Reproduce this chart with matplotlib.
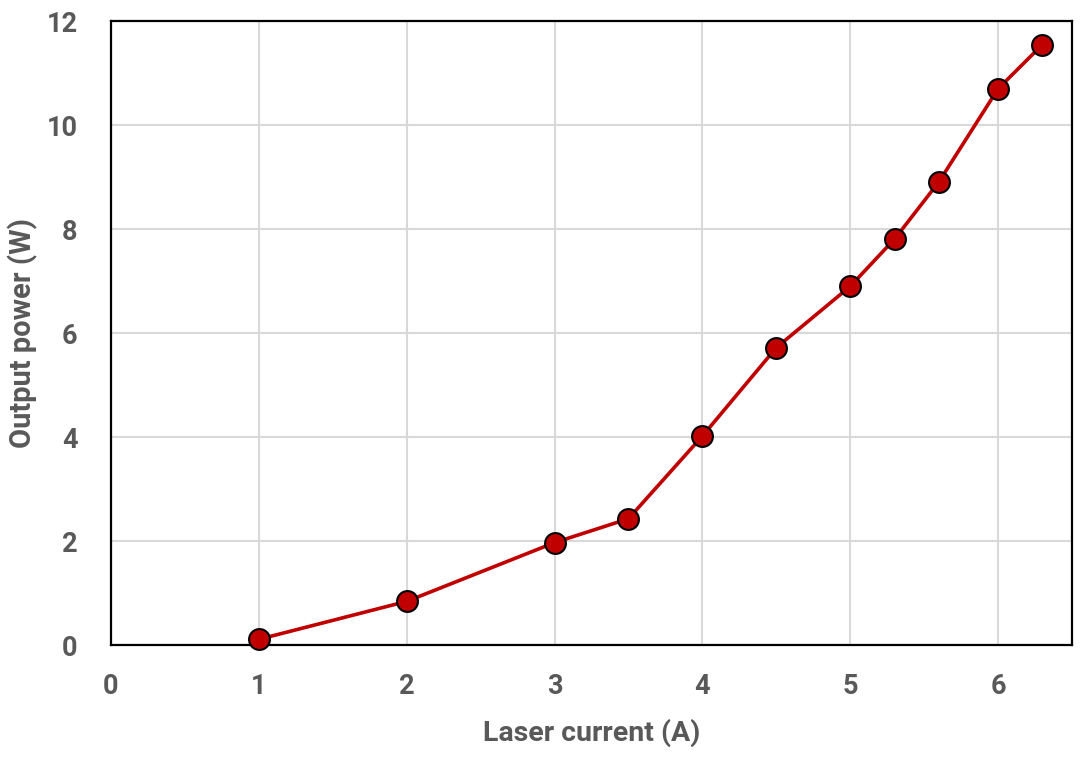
import matplotlib
matplotlib.use("Agg")
import matplotlib.pyplot as plt

current = [1, 2, 3, 3.5, 4, 4.5, 5, 5.3, 5.6, 6, 6.3]
power = [0.11, 0.84, 1.97, 2.43, 4.02, 5.72, 6.90, 7.81, 8.91, 10.70, 11.55]
xticks = [0, 1, 2, 3, 4, 5, 6]
yticks = [0, 2, 4, 6, 8, 10, 12]

grey = "#595959"
plt.rcParams['font.family'] = ['Roboto', 'DejaVu Sans']

fig = plt.figure(figsize=(10.85, 7.58), dpi=100)
ax = fig.add_axes([0.1023, 0.149, 0.8857, 0.823])
ax.plot(current, power, color="#c00000", lw=2.6, marker="o", ms=15,
        mfc="#c00000", mec="black", mew=1.5, zorder=3, clip_on=False)
ax.set_xlim(0, 6.5)
ax.set_ylim(0, 12)
ax.set_xticks(xticks)
ax.set_yticks(yticks)
ax.grid(True, color="#d9d9d9", lw=1.5)
ax.set_axisbelow(True)
for s in ax.spines.values():
    s.set_color("black")
    s.set_linewidth(1.6)
ax.tick_params(length=0, labelsize=19.5, colors=grey, pad=20)
ax.tick_params(axis='y', pad=24)
for lab in ax.get_xticklabels() + ax.get_yticklabels():
    lab.set_fontweight("bold")
ax.set_xlabel("Laser current (A)", fontsize=20.5, fontweight="bold", color=grey, labelpad=14)
ax.set_ylabel("Output power (W)", fontsize=21, fontweight="bold", color=grey, labelpad=6)
fig.savefig("out.png", dpi=100)
